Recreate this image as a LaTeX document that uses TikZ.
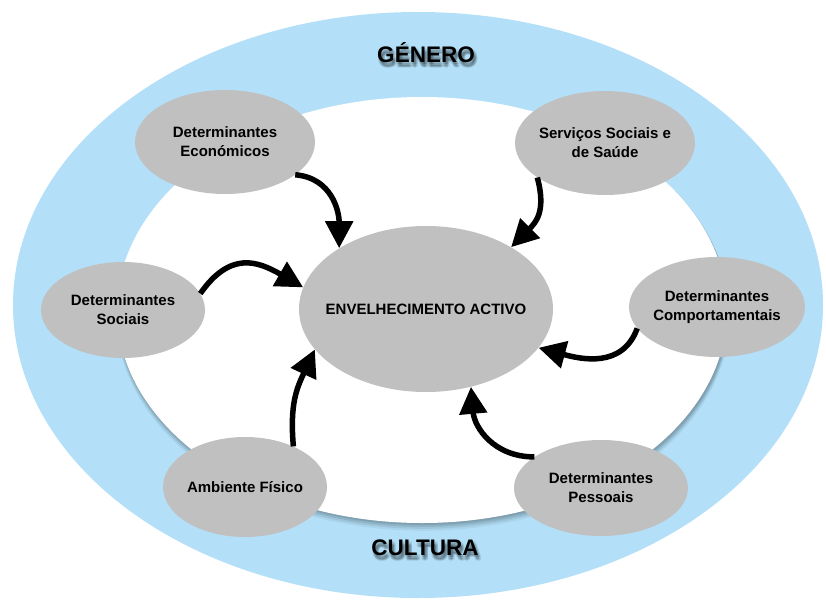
\documentclass[tikz,border=0pt]{standalone}
\usepackage{fontspec}
\setmainfont{Liberation Sans}
\usetikzlibrary{shapes.geometric,arrows.meta}
\definecolor{ringblue}{RGB}{179,224,248}
\definecolor{nodegray}{RGB}{192,192,192}

\begin{document}
\begin{tikzpicture}[x=1pt,y=1pt,
  factor/.style={ellipse, fill=nodegray, inner sep=0pt},
  factortext/.style={align=center, inner sep=0pt,
    font=\fontsize{15}{19}\selectfont\bfseries},
  ringlabel/.style={font=\fontsize{22.5}{26}\selectfont\bfseries, inner sep=0pt},
  ringshadow/.style={ringlabel, text=black, text opacity=0.07},
  link/.style={line width=5.5pt, -{Triangle[length=27pt,width=27pt]}},
  ]
  \useasboundingbox (0,0) rectangle (826,-602);

  % outer ring and the white field inside it
  \fill[ringblue] (418,-305) ellipse [x radius=405, y radius=293];
  \foreach \s/\o in {6/0.05,4.5/0.07,3/0.09,1.5/0.10}
    \fill[black, opacity=\o] (423,-310-\s) ellipse [x radius=305+0.3*\s, y radius=213+0.3*\s];
  \fill[white] (422,-310) ellipse [x radius=305, y radius=213];

  % ring labels with soft, blurred shadows
  \foreach \dx/\dy in {0.5/-2,2/-2,3.5/-2,0.5/-3.5,2/-3.5,3.5/-3.5,0.5/-5,2/-5,3.5/-5,2/-6}{
    \node[ringshadow] at (426+\dx,-53+\dy) {GÉNERO};
    \node[ringshadow] at (425+\dx,-548+\dy) {CULTURA};
  }
  \node[ringlabel] (genero) at (426,-53) {GÉNERO};
  \node[ringlabel] (cultura) at (425,-548) {CULTURA};

  % determinants
  \node[factor, minimum width=180pt, minimum height=104pt,
    label={[factortext]center:Determinantes\\Económicos}] (eco) at (225,-142) {};
  \node[factor, minimum width=180pt, minimum height=104pt,
    label={[factortext]center:Serviços Sociais e\\de Saúde}] (ser) at (605,-143) {};
  \node[factor, minimum width=254pt, minimum height=166pt,
    label={[factortext]center:ENVELHECIMENTO ACTIVO}] (env) at (426,-309) {};
  \node[factor, minimum width=164pt, minimum height=96pt,
    label={[factortext]center:Determinantes\\Sociais}] (soc) at (123,-310) {};
  \node[factor, minimum width=176pt, minimum height=100pt,
    label={[factortext]center:Determinantes\\Comportamentais}] (com) at (717,-307) {};
  \node[factor, minimum width=164pt, minimum height=100pt,
    label={[factortext]center:Ambiente Físico}] (amb) at (245,-487) {};
  \node[factor, minimum width=174pt, minimum height=96pt,
    label={[factortext]center:Determinantes\\Pessoais}] (pes) at (601,-488) {};

  % influences on active ageing
  \draw[link] (eco.-25) to[out=-5,in=90,looseness=1.1] (env.145);
  \draw[link] (ser.-153) to[out=-75,in=45,looseness=1.2] (env.36);
  \draw[link] (soc.12) to[out=55,in=150,looseness=1.3] (env.170);
  \draw[link] (com.-165) to[out=-110,in=-15,looseness=1.1] (env.-19);
  \draw[link] (amb.40) to[out=95,in=-115,looseness=1.1] (env.-160);
  \draw[link] (pes.155) to[out=180,in=-85,looseness=1.1] (env.-60);
\end{tikzpicture}
\end{document}
